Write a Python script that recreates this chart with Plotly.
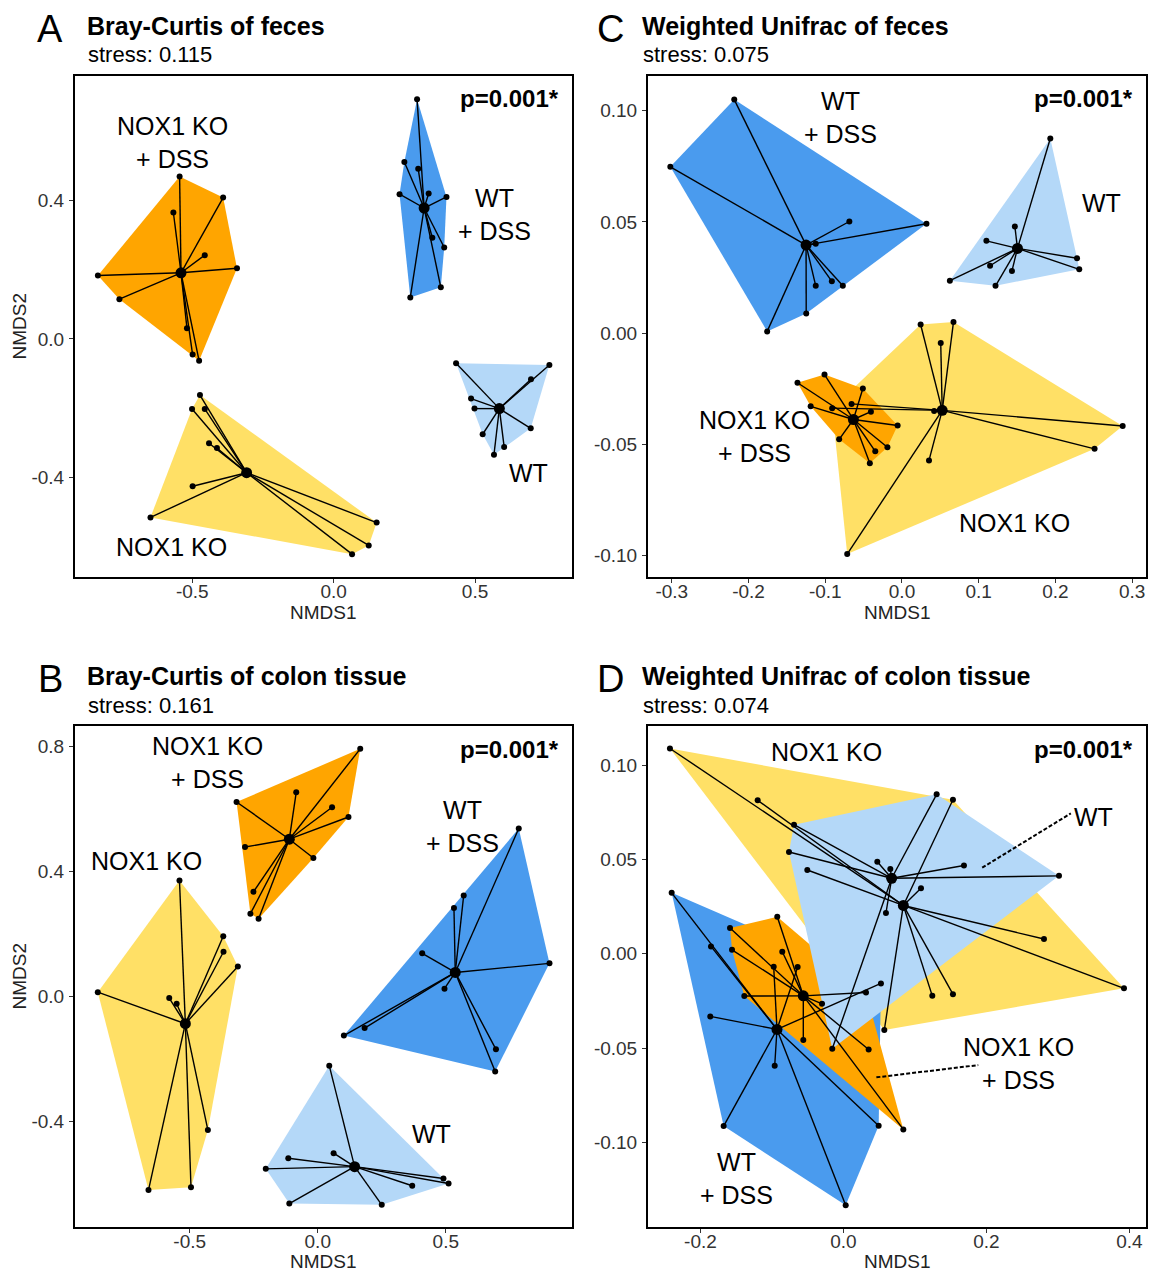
import plotly.graph_objects as go

W, H = 1150, 1273
FONT = "Liberation Sans, Arial, sans-serif"

# ---------------- data ----------------
# Panel A: Bray-Curtis of feces
A_KO_x = [-0.473, -0.501, -0.456, -0.441, -0.413, -0.499, -0.648, 0.152, 0.124, 0.065]
A_KO_y = [-0.162, -0.202, -0.202, -0.301, -0.315, -0.425, -0.515, -0.530, -0.596, -0.621]
A_KO_c = [-0.308, -0.386]
A_KODSS_x = [-0.545, -0.391, -0.567, -0.456, -0.342, -0.834, -0.758, -0.519, -0.499, -0.476]
A_KODSS_y = [0.469, 0.408, 0.365, 0.242, 0.204, 0.183, 0.115, 0.031, -0.045, -0.063]
A_KODSS_c = [-0.540, 0.191]
A_WT_x = [0.433, 0.763, 0.698, 0.486, 0.498, 0.697, 0.527, 0.603, 0.567]
A_WT_y = [-0.070, -0.075, -0.116, -0.172, -0.201, -0.258, -0.275, -0.312, -0.334]
A_WT_c = [0.586, -0.201]
A_WTDSS_x = [0.295, 0.250, 0.299, 0.233, 0.336, 0.399, 0.349, 0.391, 0.379, 0.271]
A_WTDSS_y = [0.692, 0.511, 0.491, 0.418, 0.420, 0.410, 0.292, 0.264, 0.149, 0.120]
A_WTDSS_c = [0.320, 0.378]

# Panel C: Weighted Unifrac of feces
C_KO_x = [0.0243, 0.0671, 0.0505, 0.0419, 0.0352, 0.2876, 0.2510, -0.0714, -0.0657, -0.0910]
C_KO_y = [0.0039, 0.0050, -0.0044, -0.0350, -0.0572, -0.0417, -0.0520, -0.0993, -0.0318, -0.0337]
C_KO_c = [0.0524, -0.0347]
C_KODSS_x = [-0.1362, -0.1010, -0.0510, -0.1190, -0.0405, -0.0057, -0.0819, -0.0348, -0.0190, -0.0419]
C_KODSS_y = [-0.0223, -0.0186, -0.0249, -0.0329, -0.0353, -0.0415, -0.0477, -0.0531, -0.0513, -0.0585]
C_KODSS_c = [-0.0633, -0.0388]
C_WT_x = [0.1933, 0.1471, 0.1100, 0.1148, 0.1433, 0.1219, 0.0624, 0.2281, 0.2310]
C_WT_y = [0.0875, 0.0480, 0.0415, 0.0303, 0.0280, 0.0213, 0.0236, 0.0337, 0.0287]
C_WT_c = [0.1505, 0.0381]
C_WTDSS_x = [-0.2186, -0.3019, 0.0319, -0.0686, -0.1124, -0.1124, -0.0914, -0.0771, -0.1248, -0.1757]
C_WTDSS_y = [0.1050, 0.0748, 0.0492, 0.0502, 0.0402, 0.0213, 0.0233, 0.0213, 0.0088, 0.0008]
C_WTDSS_c = [-0.125, 0.0396]

# Panel B: Bray-Curtis of colon tissue
B_KO_x = [-0.540, -0.369, -0.368, -0.312, -0.859, -0.580, -0.551, -0.429, -0.661, -0.495]
B_KO_y = [0.371, 0.193, 0.143, 0.096, 0.014, -0.005, -0.023, -0.427, -0.619, -0.610]
B_KO_c = [-0.517, -0.087]
B_KODSS_x = [0.166, -0.317, -0.084, 0.056, 0.120, -0.284, -0.017, -0.251, -0.263, -0.231]
B_KODSS_y = [0.792, 0.622, 0.653, 0.605, 0.574, 0.478, 0.443, 0.335, 0.265, 0.249]
B_KODSS_c = [-0.111, 0.503]
B_WT_x = [0.045, -0.115, 0.062, -0.203, 0.491, 0.511, 0.369, -0.111, 0.250]
B_WT_y = [-0.221, -0.517, -0.501, -0.551, -0.582, -0.598, -0.605, -0.662, -0.666]
B_WT_c = [0.144, -0.544]
B_WTDSS_x = [0.785, 0.570, 0.532, 0.408, 0.905, 0.495, 0.183, 0.102, 0.696, 0.693]
B_WTDSS_y = [0.537, 0.323, 0.283, 0.138, 0.106, 0.025, -0.101, -0.125, -0.169, -0.240]
B_WTDSS_c = [0.537, 0.077]

# Panel D: Weighted Unifrac of colon tissue
D_KO_x = [-0.2427, -0.120, 0.1531, 0.2804, 0.3923, 0.1242, 0.1531, 0.0571, 0.1084, -0.0506]
D_KO_y = [0.1088, 0.0813, 0.0816, 0.0078, -0.0183, -0.0223, -0.0214, -0.0404, 0.0347, 0.0444]
D_KO_c = [0.0837, 0.0256]
D_KODSS_x = [-0.0926, -0.1587, -0.1559, -0.0856, -0.1387, -0.0300, -0.0562, 0.0352, 0.0315, 0.0837]
D_KODSS_y = [0.0196, 0.0136, 0.0021, 0.0011, -0.0224, -0.0265, -0.0457, -0.0507, -0.0205, -0.0931]
D_KODSS_c = [-0.0562, -0.0223]
D_WT_x = [-0.0692, -0.0762, 0.0473, 0.0655, 0.0594, 0.1303, 0.1685, 0.3014, -0.0157]
D_WT_y = [0.0684, 0.0539, 0.0488, 0.0449, 0.0216, 0.0845, 0.0468, 0.0413, -0.0503]
D_WT_c = [0.0674, 0.0400]
D_WTDSS_x = [-0.2403, -0.1853, -0.0976, -0.0641, 0.0524, -0.1863, -0.1676, -0.0962, 0.0031, 0.0492]
D_WTDSS_y = [0.0323, 0.0039, -0.0069, -0.0070, -0.0157, -0.0332, -0.0913, -0.0594, -0.1333, -0.0911]
D_WTDSS_c = [-0.0930, -0.0401]

# Tick labels
AB_xticks = ["-0.5", "0.0", "0.5"]
A_yticks = ["-0.4", "0.0", "0.4"]
B_yticks = ["-0.4", "0.0", "0.4", "0.8"]
C_xticks = ["-0.3", "-0.2", "-0.1", "0.0", "0.1", "0.2", "0.3"]
D_xticks = ["-0.2", "0.0", "0.2", "0.4"]
CD_yticks = ["-0.10", "-0.05", "0.00", "0.05", "0.10"]

titles = ["Bray-Curtis of feces", "Weighted Unifrac of feces",
          "Bray-Curtis of colon tissue", "Weighted Unifrac of colon tissue"]
stresses = ["0.115", "0.075", "0.161", "0.074"]
pvals = ["p=0.001*"] * 4

GROUPS = ["KO", "WTDSS", "KODSS", "WT"]   # drawing order
COLORS = {"KO": "#FFE066", "WTDSS": "#4A9BEE", "KODSS": "#FFA500", "WT": "#B4D8F8"}

data = {
    "A": {"KO": (A_KO_x, A_KO_y, A_KO_c), "KODSS": (A_KODSS_x, A_KODSS_y, A_KODSS_c),
          "WT": (A_WT_x, A_WT_y, A_WT_c), "WTDSS": (A_WTDSS_x, A_WTDSS_y, A_WTDSS_c)},
    "C": {"KO": (C_KO_x, C_KO_y, C_KO_c), "KODSS": (C_KODSS_x, C_KODSS_y, C_KODSS_c),
          "WT": (C_WT_x, C_WT_y, C_WT_c), "WTDSS": (C_WTDSS_x, C_WTDSS_y, C_WTDSS_c)},
    "B": {"KO": (B_KO_x, B_KO_y, B_KO_c), "KODSS": (B_KODSS_x, B_KODSS_y, B_KODSS_c),
          "WT": (B_WT_x, B_WT_y, B_WT_c), "WTDSS": (B_WTDSS_x, B_WTDSS_y, B_WTDSS_c)},
    "D": {"KO": (D_KO_x, D_KO_y, D_KO_c), "KODSS": (D_KODSS_x, D_KODSS_y, D_KODSS_c),
          "WT": (D_WT_x, D_WT_y, D_WT_c), "WTDSS": (D_WTDSS_x, D_WTDSS_y, D_WTDSS_c)},
}

# group labels (text, x, y) in data units
labels = {
    "A": [("NOX1 KO<br>+ DSS", -0.569, 0.566), ("WT<br>+ DSS", 0.569, 0.360),
          ("WT", 0.690, -0.388), ("NOX1 KO", -0.575, -0.600)],
    "C": [("WT<br>+ DSS", -0.080, 0.0969), ("WT", 0.260, 0.0586),
          ("NOX1 KO<br>+ DSS", -0.192, -0.0464), ("NOX1 KO", 0.146, -0.0855)],
    "B": [("NOX1 KO<br>+ DSS", -0.429, 0.749), ("WT<br>+ DSS", 0.567, 0.543),
          ("NOX1 KO", -0.667, 0.434), ("WT", 0.444, -0.440)],
    "D": [("NOX1 KO", -0.0235, 0.107), ("WT", 0.349, 0.0726),
          ("NOX1 KO<br>+ DSS", 0.2445, -0.0581), ("WT<br>+ DSS", -0.149, -0.119)],
}
leaders_D = [(0.194, 0.0456, 0.318, 0.0744), (0.046, -0.0655, 0.1885, -0.0590)]

# ---------------- layout geometry ----------------
panels = {
    "A": ("", (75, 76, 572, 577), [-0.915, 0.843], [-0.687, 0.759], AB_xticks, A_yticks, 0, True),
    "C": ("2", (648, 76, 1146, 577), [-0.331, 0.318], [-0.1096, 0.1156], C_xticks, CD_yticks, 1, False),
    "B": ("3", (75, 726, 572, 1227), [-0.948, 0.993], [-0.737, 0.865], AB_xticks, B_yticks, 2, True),
    "D": ("4", (648, 726, 1146, 1227), [-0.2734, 0.4231], [-0.1448, 0.1207], D_xticks, CD_yticks, 3, False),
}


def px(x):
    return x / W


def py(y):
    return 1 - y / H


def convex_hull(xs, ys):
    pts = sorted(set(zip(xs, ys)))

    def cross(o, a, b):
        return (a[0] - o[0]) * (b[1] - o[1]) - (a[1] - o[1]) * (b[0] - o[0])
    lower, upper = [], []
    for p in pts:
        while len(lower) >= 2 and cross(lower[-2], lower[-1], p) <= 0:
            lower.pop()
        lower.append(p)
    for p in reversed(pts):
        while len(upper) >= 2 and cross(upper[-2], upper[-1], p) <= 0:
            upper.pop()
        upper.append(p)
    h = lower[:-1] + upper[:-1]
    h.append(h[0])
    return [p[0] for p in h], [p[1] for p in h]


fig = go.Figure()
layout = dict(width=W, height=H, margin=dict(l=0, r=0, t=0, b=0),
              paper_bgcolor="white", plot_bgcolor="white", showlegend=False,
              font=dict(family=FONT, color="black"))
annotations = []
shapes = []

for key in ["A", "C", "B", "D"]:
    suf, (l, t, r, b), xr, yr, xt, yt, ti, show_y = panels[key]
    xa, ya = "x" + suf, "y" + suf
    axis_common = dict(showgrid=False, zeroline=False, showline=True, linewidth=2,
                       linecolor="black", mirror=True, ticks="outside", ticklen=4,
                       tickwidth=1.3, tickcolor="#333333",
                       tickfont=dict(family=FONT, size=19, color="#333333"))
    layout["xaxis" + suf] = dict(axis_common, domain=[px(l), px(r)], range=xr,
                                 anchor=ya, tickvals=[float(v) for v in xt], ticktext=xt,
                                 ticklabelstandoff=-8)
    layout["yaxis" + suf] = dict(axis_common, domain=[py(b), py(t)], range=yr,
                                 anchor=xa, tickvals=[float(v) for v in yt], ticktext=yt,
                                 ticklabelstandoff=1)

    groups = data[key]
    # hulls
    for g in GROUPS:
        gx, gy, gc = groups[g]
        hx, hy = convex_hull(gx, gy)
        fig.add_trace(go.Scatter(x=hx, y=hy, mode="lines", fill="toself",
                                 fillcolor=COLORS[g], line=dict(width=0, color=COLORS[g]),
                                 xaxis=xa, yaxis=ya, hoverinfo="skip"))
    # spiders
    for g in GROUPS:
        gx, gy, gc = groups[g]
        lx, ly = [], []
        for xx, yy in zip(gx, gy):
            lx += [gc[0], xx, None]
            ly += [gc[1], yy, None]
        fig.add_trace(go.Scatter(x=lx, y=ly, mode="lines",
                                 line=dict(color="black", width=1.4),
                                 xaxis=xa, yaxis=ya, hoverinfo="skip"))
    for g in GROUPS:
        gx, gy, gc = groups[g]
        fig.add_trace(go.Scatter(x=gx, y=gy, mode="markers",
                                 marker=dict(color="black", size=6),
                                 xaxis=xa, yaxis=ya))
        fig.add_trace(go.Scatter(x=[gc[0]], y=[gc[1]], mode="markers",
                                 marker=dict(color="black", size=11),
                                 xaxis=xa, yaxis=ya))

    # group labels
    for txt, lx_, ly_ in labels[key]:
        annotations.append(dict(x=lx_, y=ly_, xref=xa, yref=ya, text=txt, showarrow=False,
                                font=dict(family=FONT, size=25, color="black"),
                                align="center", xanchor="center", yanchor="middle"))
    # p value
    annotations.append(dict(x=px(r - 11), y=py(t + 23), xref="paper", yref="paper",
                            text="<b>" + pvals[ti] + "</b>", showarrow=False,
                            font=dict(family=FONT, size=24, color="black"),
                            xanchor="right", yanchor="middle"))
    # panel letter, title, stress
    letter_x = 50 if l < 300 else 610
    title_x = 85 if l < 300 else 640
    annotations.append(dict(x=px(letter_x), y=py(t - 47), xref="paper", yref="paper",
                            text=key, showarrow=False,
                            font=dict(family=FONT, size=38, color="black"),
                            xanchor="center", yanchor="middle"))
    annotations.append(dict(x=px(title_x), y=py(t - 50), xref="paper", yref="paper",
                            text="<b>" + titles[ti] + "</b>", showarrow=False,
                            font=dict(family=FONT, size=25, color="black"),
                            xanchor="left", yanchor="middle"))
    annotations.append(dict(x=px(title_x + 1), y=py(t - 21), xref="paper", yref="paper",
                            text="stress: " + stresses[ti], showarrow=False,
                            font=dict(family=FONT, size=22, color="black"),
                            xanchor="left", yanchor="middle"))
    # axis titles
    title_gap = 36 if t < 300 else 34
    annotations.append(dict(x=px((l + r) / 2), y=py(b + title_gap), xref="paper", yref="paper",
                            text="NMDS1", showarrow=False,
                            font=dict(family=FONT, size=19, color="#222222"),
                            xanchor="center", yanchor="middle"))
    if show_y:
        annotations.append(dict(x=px(19), y=py((t + b) / 2), xref="paper", yref="paper",
                                text="NMDS2", showarrow=False, textangle=-90,
                                font=dict(family=FONT, size=19, color="#222222"),
                                xanchor="center", yanchor="middle"))

# leader lines in panel D
for x0, y0, x1, y1 in leaders_D:
    shapes.append(dict(type="line", xref="x4", yref="y4", x0=x0, y0=y0, x1=x1, y1=y1,
                       line=dict(color="black", width=2, dash="4px,2px")))

layout["annotations"] = annotations
layout["shapes"] = shapes
fig.update_layout(**layout)
fig.write_html("out.html", config={"displayModeBar": False},
               post_script="document.body.style.margin='0px';document.body.style.overflow='hidden';")
